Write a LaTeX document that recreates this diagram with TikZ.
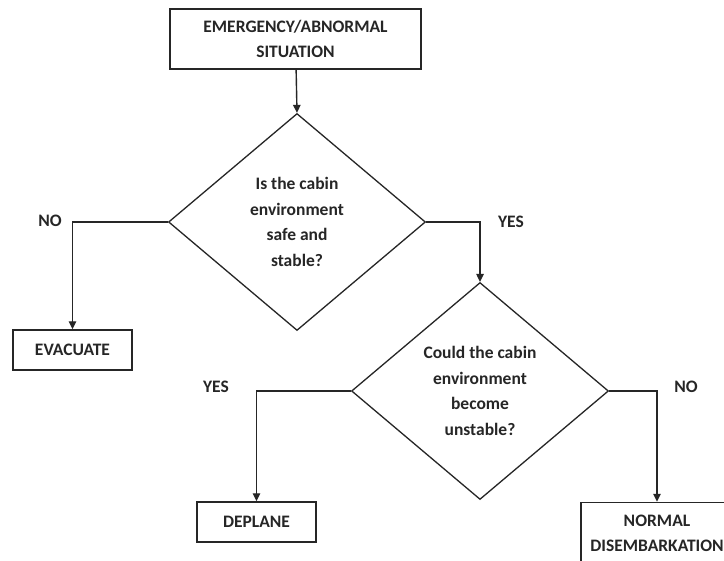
\documentclass[tikz,border=0pt]{standalone}
\usepackage{fontspec}
\setmainfont{Carlito}
\usetikzlibrary{shapes.geometric}
\usetikzlibrary{arrows.meta}

\definecolor{inkgray}{HTML}{262626}

\tikzset{
  stepbox/.style={draw=inkgray, line width=1.4pt, rectangle, inner sep=0pt, align=center},
  decision/.style={draw=inkgray, line width=1.3pt, diamond, inner sep=0pt, aspect=1.2,
    minimum width=257pt, minimum height=217pt, align=center},
  flow/.style={draw=inkgray, line width=1.4pt, -{Triangle[width=7.5pt,length=8pt]}},
  answer/.style={inner sep=0pt}
}

\begin{document}
\begin{tikzpicture}[x=1pt, y=-1pt, font=\fontsize{17.5}{25.5}\selectfont\bfseries, text=inkgray]
  \useasboundingbox[fill=white] (0,0) rectangle (724,561);
  \clip (0,0) rectangle (724,561);

  \node[stepbox, minimum width=251pt, minimum height=60pt] (emergency) at (295.5,39) {EMERGENCY/ABNORMAL\\SITUATION};
  \node[decision] (safe) at (297,222) {Is the cabin\\environment\\safe and\\stable?};
  \node[stepbox, minimum width=119pt, minimum height=40pt] (evacuate) at (72.5,350) {EVACUATE};
  \node[decision] (unstable) at (480,391) {Could the cabin\\environment\\become\\unstable?};
  \node[stepbox, minimum width=119pt, minimum height=40pt] (deplane) at (256.5,522) {DEPLANE};
  \node[stepbox, minimum width=152pt, minimum height=62pt] (normal) at (657,533.5) {NORMAL\\DISEMBARKATION};

  \node[answer] (safeno) at (50,221) {NO};
  \node[answer] (safeyes) at (511,222) {YES};
  \node[answer] (unstableyes) at (216,387) {YES};
  \node[answer] (unstableno) at (686,387) {NO};

  \draw[flow] (emergency) -- (safe.north);
  \draw[flow] (safe.west) -| (evacuate.north);
  \draw[flow] (safe.east) -| (unstable.north);
  \draw[flow] (unstable.west) -| (deplane.north);
  \draw[flow] (unstable.east) -| (normal.north);
\end{tikzpicture}
\end{document}
